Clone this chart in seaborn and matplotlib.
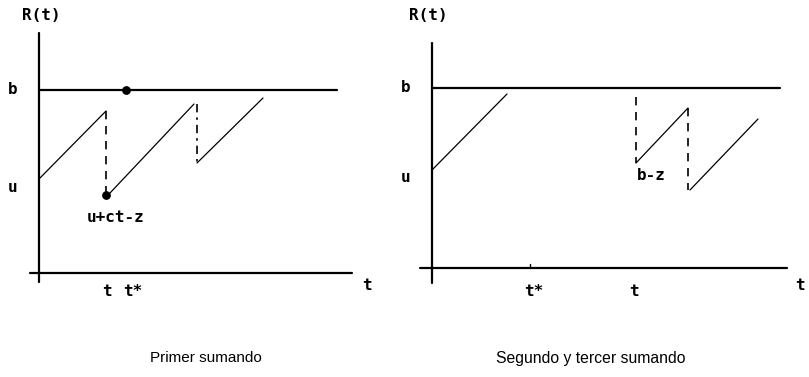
import matplotlib
matplotlib.use("Agg")
import matplotlib.pyplot as plt
import seaborn as sns
import pandas as pd

# diagram coordinates (origin = where the axes cross)
# --- left panel: "Primer sumando"
left_b = 183
left_u = 85
left_saw_x = [0, 67, 71, 155, 158, 224]
left_saw_y = [94, 162, 80, 169, 110, 175]
left_saw_seg = [0, 0, 1, 1, 2, 2]
left_jump_x = [67, 158]
left_jump_top = [162, 169]
left_jump_bot = [78, 110]
left_jump_style = ["--", "-."]
left_dots_x = [87, 67]
left_dots_y = [183, 78]
left_ticks = ["t", "t*"]
left_ticks_x = [68, 94]

# --- right panel: "Segundo y tercer sumando"
right_b = 180
right_u = 91
right_saw_x = [0, 75, 204, 256, 258, 326]
right_saw_y = [98, 174, 105, 160, 78, 149]
right_saw_seg = [0, 0, 1, 1, 2, 2]
right_jump_x = [204, 256]
right_jump_top = [171, 160]
right_jump_bot = [105, 78]
right_jump_style = ["--", "--"]
right_ticks = ["t*", "t"]
right_ticks_x = [102, 202]
right_tstar_mark = 98

sns.set_theme(style="white")
plt.rcParams["text.color"] = "black"
mono = "DejaVu Sans Mono"
sans = ["Liberation Sans", "DejaVu Sans"]

fig = plt.figure(figsize=(8.09, 3.77), dpi=100)
ax_l = fig.add_axes([0, 0, 400 / 809, 1])
ax_r = fig.add_axes([400 / 809, 0, 409 / 809, 1])


def label(ax, x, y, s):
    ax.text(x, y, s, fontsize=11.5, family=mono, fontweight="bold",
            color="black", ha="center", va="center")


def panel(ax, xlim, ylim, b, u, sx, sy, seg, jx, jt, jb, js, xaxis, yaxis, blen):
    ax.set_xlim(*xlim)
    ax.set_ylim(*ylim)
    ax.axis("off")
    # axes of the diagram
    ax.plot([0, 0], yaxis, color="black", lw=1.6)
    ax.plot(xaxis, [0, 0], color="black", lw=1.6)
    ax.plot([0, blen], [b, b], color="black", lw=1.6)
    # reserve process
    df = pd.DataFrame({"x": sx, "y": sy, "seg": seg})
    sns.lineplot(data=df, x="x", y="y", units="seg", estimator=None,
                 sort=False, color="black", lw=0.9, ax=ax, legend=False)
    for x, t, bt, st in zip(jx, jt, jb, js):
        ax.plot([x, x], [t, bt], color="black", lw=1.2, linestyle=st,
                dashes=(5, 4) if st == "--" else (5, 3, 1.5, 3))
    ax.set_xlabel("")
    ax.set_ylabel("")
    label(ax, -26, b, "b")
    label(ax, -26, u, "u")


panel(ax_l, (-39, 361), (-104, 273), left_b, left_u, left_saw_x, left_saw_y,
      left_saw_seg, left_jump_x, left_jump_top, left_jump_bot, left_jump_style,
      [-9, 313], [-9, 240], 298)
ax_l.scatter(left_dots_x, left_dots_y, s=28, color="black", zorder=5)
label(ax_l, 2, 258, "R(t)")
label(ax_l, 77, 56, "u+ct-z")
for lab, x in zip(left_ticks, left_ticks_x):
    label(ax_l, x, -19, lab)
label(ax_l, 328, -12, "t")
ax_l.text(167, -85, "Primer sumando", fontsize=11, family=sans,
          color="black", ha="center", va="center")

panel(ax_r, (-32, 377), (-109, 268), right_b, right_u, right_saw_x, right_saw_y,
      right_saw_seg, right_jump_x, right_jump_top, right_jump_bot, right_jump_style,
      [-12, 355], [-15, 225], 348)
ax_r.plot([right_tstar_mark, right_tstar_mark], [0, 4], color="black", lw=1)
label(ax_r, -4, 253, "R(t)")
label(ax_r, 219, 92, "b-z")
for lab, x in zip(right_ticks, right_ticks_x):
    label(ax_r, x, -23, lab)
label(ax_r, 368, -17, "t")
ax_r.text(159, -90, "Segundo y tercer sumando", fontsize=11.3, family=sans,
          color="black", ha="center", va="center")

fig.savefig("out.png", dpi=100, facecolor="white")
